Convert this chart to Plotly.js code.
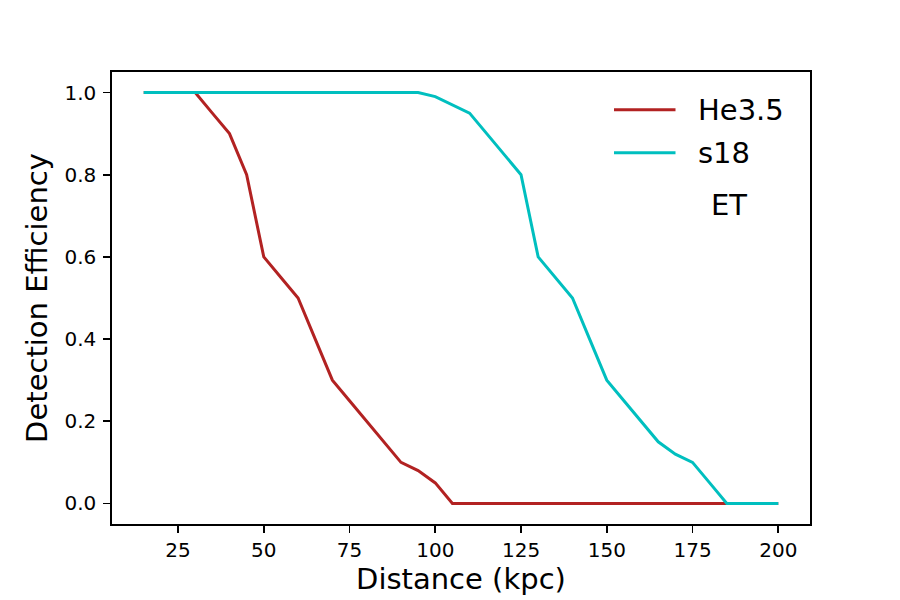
<!DOCTYPE html>
<html>
<head>
<meta charset="utf-8">
<script src="https://cdn.plot.ly/plotly-3.0.1.min.js"></script>
<style>html,body{margin:0;padding:0;background:#fff;}#chart{width:900px;height:600px;}</style>
</head>
<body>
<div id="chart"></div>
<script>
const distance = [15,20,25,30,35,40,45,50,55,60,65,70,75,80,85,90,95,100,105,110,115,120,125,130,135,140,145,150,155,160,165,170,175,180,185,190,195,200];
const he35 = [1,1,1,1,0.95,0.9,0.8,0.6,0.55,0.5,0.4,0.3,0.25,0.2,0.15,0.1,0.08,0.05,0,0,0,0,0,0,0,0,0,0,0,0,0,0,0,0,0,0,0,0];
const s18 = [1,1,1,1,1,1,1,1,1,1,1,1,1,1,1,1,1,0.99,0.97,0.95,0.9,0.85,0.8,0.6,0.55,0.5,0.4,0.3,0.25,0.2,0.15,0.12,0.1,0.05,0,0,0,0];
const seriesNames = ['He3.5','s18'];
const seriesColors = ['#b22222','#00bfbf'];
const xTicks = [25,50,75,100,125,150,175,200];
const yTicks = [0.0,0.2,0.4,0.6,0.8,1.0];
const detectorLabel = 'ET';

const font = 'DejaVu Sans, sans-serif';
const traces = [he35, s18].map((ys,i)=>({
  x: distance, y: ys, type:'scatter', mode:'lines', name: seriesNames[i],
  line:{color: seriesColors[i], width:3}, showlegend:false
}));

const axisCommon = {
  showline:true, linecolor:'#000', linewidth:1.7, mirror:true,
  ticks:'outside', ticklen:7, tickwidth:1.7, tickcolor:'#000',
  showgrid:false, zeroline:false, tickfont:{family:font, size:20, color:'#000'}
};

// manual legend (matplotlib style)
const legendShapes = [];
const legendAnn = [];
const legY = [109.7, 152.7];
seriesNames.forEach((n,i)=>{
  legendShapes.push({type:'line', xref:'paper', yref:'paper',
    x0:(614-112)/698, x1:(675.5-112)/698, y0:(524-legY[i])/452, y1:(524-legY[i])/452,
    line:{color:seriesColors[i], width:3}});
  legendAnn.push({xref:'paper', yref:'paper', x:(696-112)/698, y:(524-legY[i])/452,
    xanchor:'left', yanchor:'middle', showarrow:false, text:n,
    font:{family:font, size:29, color:'#000'}});
});
legendAnn.push({xref:'paper', yref:'paper', x:(709-112)/698, y:(524-205)/452,
  xanchor:'left', yanchor:'middle', showarrow:false, text:detectorLabel,
  font:{family:font, size:29, color:'#000'}});

const layout = {
  width:900, height:600,
  margin:{l:112, r:90, t:72, b:76},
  paper_bgcolor:'#fff', plot_bgcolor:'#fff',
  font:{family:font, color:'#000'},
  xaxis: Object.assign({}, axisCommon, {
    range:[5.75, 209.25], tickvals:xTicks, ticktext:xTicks.map(String),
    title:{text:'Distance (kpc)', font:{family:font, size:29, color:'#000'}, standoff:8}
  }),
  yaxis: Object.assign({}, axisCommon, {
    range:[-0.05, 1.05], tickvals:yTicks, ticktext:yTicks.map(v=>v.toFixed(1)),
    ticklabelstandoff:3,
    title:{text:'Detection Efficiency', font:{family:font, size:29, color:'#000'}, standoff:8}
  }),
  shapes: legendShapes,
  annotations: legendAnn
};
Plotly.newPlot('chart', traces, layout, {displayModeBar:false, staticPlot:true});
</script>
</body>
</html>
